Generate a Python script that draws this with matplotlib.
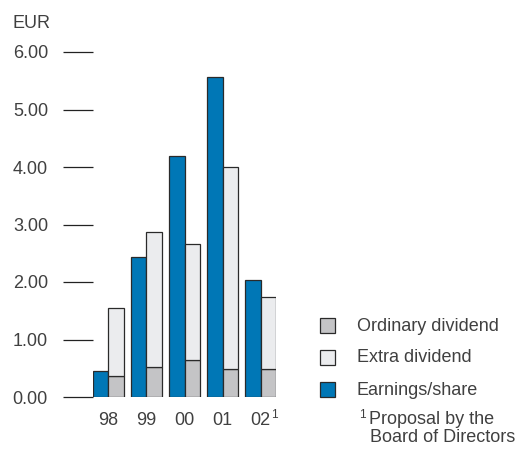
import matplotlib
matplotlib.use("Agg")
import matplotlib.pyplot as plt
from matplotlib.patches import Rectangle
import numpy as np

plt.rcParams['font.family'] = ['Liberation Sans', 'DejaVu Sans']

years = ['98', '99', '00', '01', '02']
earnings = [0.45, 2.43, 4.20, 5.56, 2.04]
ordinary = [0.37, 0.53, 0.64, 0.49, 0.49]
extra = [1.18, 2.34, 2.02, 3.51, 1.25]
yticks = [0, 1, 2, 3, 4, 5, 6]

BLUE = '#0077b6'
ORD = '#c4c4c6'
EXT = '#ebecee'
EDGE = '#2a2a2a'
TXT = '#404040'

W, H = 517, 450
fig = plt.figure(figsize=(W / 100, H / 100), dpi=100)

def fx(px):
    return px / W

def fy(py):
    return 1 - py / H

ax = fig.add_axes([fx(93), fy(397), fx(276) - fx(93), fy(52) - fy(397)])
x = np.arange(len(years))
w = 0.406
ax.bar(x - w / 2, earnings, w, color=BLUE, edgecolor=EDGE, linewidth=0.9)
ax.bar(x + w / 2, ordinary, w, color=ORD, edgecolor=EDGE, linewidth=0.9)
ax.bar(x + w / 2, extra, w, bottom=ordinary, color=EXT, edgecolor=EDGE, linewidth=0.9)

ax.set_xlim(-w, len(years) - 1 + w)
ax.set_ylim(0, 6)
for s in ax.spines.values():
    s.set_visible(False)

ax.set_yticks(yticks)
ax.set_yticklabels([f'{v:.2f}' for v in yticks])
ax.tick_params(axis='y', length=21.6, width=0.9, color='#222222', pad=10.8,
               labelsize=13, labelcolor=TXT)
ax.set_xticks(x)
ax.set_xticklabels(years)
ax.tick_params(axis='x', length=0, pad=11, labelsize=13, labelcolor=TXT)

# superscript on 02
fig.text(fx(271), fy(409), '1', fontsize=8.5, color=TXT, ha='left', va='top')

fig.text(fx(12), fy(23), 'EUR', fontsize=13, color=TXT, ha='left', va='center')

# legend
items = [(ORD, 'Ordinary dividend', 325.5), (EXT, 'Extra dividend', 357),
         (BLUE, 'Earnings/share', 389.5)]
for col, lab, cy in items:
    fig.add_artist(Rectangle((fx(320), fy(cy + 7.5)), fx(15), 15 / H,
                             facecolor=col, edgecolor=EDGE, linewidth=0.9,
                             transform=fig.transFigure))
    fig.text(fx(357), fy(cy + 1), lab, fontsize=13, color=TXT, ha='left', va='center')

fig.text(fx(359), fy(409), '1', fontsize=8.5, color=TXT, ha='left', va='top')
fig.text(fx(369), fy(420), 'Proposal by the', fontsize=13, color=TXT, ha='left', va='center')
fig.text(fx(370), fy(438), 'Board of Directors', fontsize=13, color=TXT, ha='left', va='center')

fig.savefig('out.png', dpi=100)
